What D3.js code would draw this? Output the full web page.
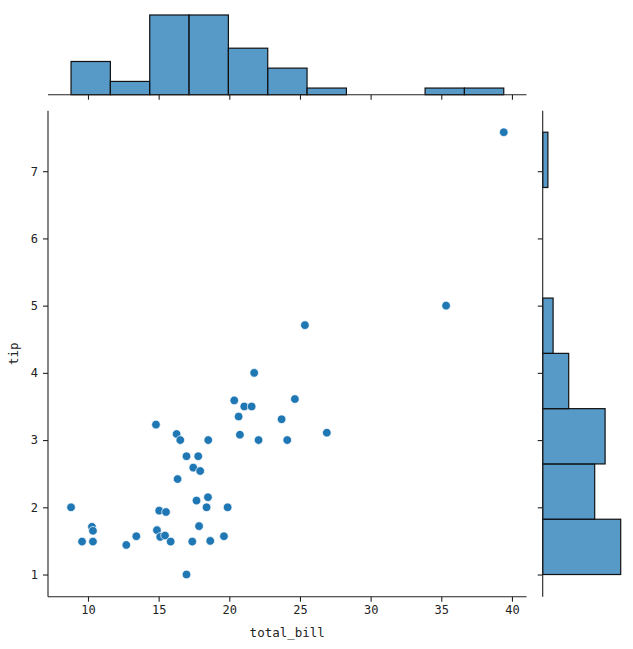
<!DOCTYPE html>
<html>
<head>
<meta charset="utf-8">
<script src="https://cdn.jsdelivr.net/npm/d3@7"></script>
<style>
  body { margin: 0; background: #fff; }
  text { font-family: "DejaVu Sans Mono", "Liberation Mono", monospace; fill: #222; }
</style>
</head>
<body>
<div id="chart"></div>
<script>
// scatter data
const totalBill = [8.80, 10.28, 10.35, 9.58, 10.35, 12.71, 13.42, 14.81, 14.88, 15.04,
    15.52, 15.11, 15.45, 15.85, 16.27, 16.53, 16.34, 16.97, 16.97, 17.45,
    17.38, 17.80, 17.94, 17.68, 17.86, 18.51, 18.49, 18.39, 18.65, 19.62,
    19.88, 20.35, 20.66, 21.06, 21.58, 20.75, 22.07, 23.70, 24.10, 24.64,
    35.34, 25.35, 21.76, 26.90, 39.42];
const tip = [2.00, 1.71, 1.65, 1.49, 1.49, 1.44, 1.57, 3.23, 1.66, 1.95,
    1.93, 1.56, 1.58, 1.49, 3.09, 3.00, 2.42, 2.76, 1.00, 2.59,
    1.49, 2.76, 2.54, 2.10, 1.72, 3.00, 2.15, 2.00, 1.50, 1.57,
    2.00, 3.59, 3.35, 3.50, 3.50, 3.08, 3.00, 3.31, 3.00, 3.61,
    5.00, 4.71, 4.00, 3.11, 7.58];

// marginal histogram counts
const billCounts = [5, 2, 12, 12, 7, 4, 1, 0, 0, 1, 1];
const tipCounts = [15, 10, 12, 5, 2, 0, 0, 1];

// ticks
const xTicks = [10, 15, 20, 25, 30, 35, 40];
const yTicks = [1, 2, 3, 4, 5, 6, 7];

const width = 633;
const height = 649;

// main axes box
const main = { left: 48, top: 110.7, right: 526.5, bottom: 596.7 };
const margTop = { top: 11, bottom: 94.7 };
const margRight = { left: 542.7, right: 624.6 };

const dotColor = "#1f77b4";
const barFill = "rgba(31,119,180,0.75)";

const svg = d3.select("#chart")
    .append("svg")
    .attr("width", width)
    .attr("height", height);

const x = d3.scaleLinear().domain([7.17, 41.03]).range([main.left, main.right]);
const y = d3.scaleLinear().domain([0.67, 7.90]).range([main.bottom, main.top]);

// bins, equal width over the data range
const xExt = d3.extent(totalBill);
const yExt = d3.extent(tip);
const xStep = (xExt[1] - xExt[0]) / billCounts.length;
const yStep = (yExt[1] - yExt[0]) / tipCounts.length;
const billBins = billCounts.map(function (c, i) {
    return { x0: xExt[0] + i * xStep, x1: xExt[0] + (i + 1) * xStep, count: c };
});
const tipBins = tipCounts.map(function (c, i) {
    return { y0: yExt[0] + i * yStep, y1: yExt[0] + (i + 1) * yStep, count: c };
});

const hTop = d3.scaleLinear().domain([0, d3.max(billCounts) * 1.05]).range([margTop.bottom, margTop.top]);
const hRight = d3.scaleLinear().domain([0, d3.max(tipCounts) * 1.05]).range([margRight.left, margRight.right]);

//top histogram
svg.append("g")
    .selectAll("rect")
    .data(billBins.filter(function (d) { return d.count > 0; }))
    .enter()
    .append("rect")
    .attr("x", function (d) { return x(d.x0); })
    .attr("width", function (d) { return x(d.x1) - x(d.x0); })
    .attr("y", function (d) { return hTop(d.count); })
    .attr("height", function (d) { return hTop(0) - hTop(d.count); })
    .attr("fill", barFill)
    .attr("stroke", "#111")
    .attr("stroke-width", 1.2);

//right histogram
svg.append("g")
    .selectAll("rect")
    .data(tipBins.filter(function (d) { return d.count > 0; }))
    .enter()
    .append("rect")
    .attr("x", hRight(0))
    .attr("width", function (d) { return hRight(d.count) - hRight(0); })
    .attr("y", function (d) { return y(d.y1); })
    .attr("height", function (d) { return y(d.y0) - y(d.y1); })
    .attr("fill", barFill)
    .attr("stroke", "#111")
    .attr("stroke-width", 1.2);

//scatter
svg.append("g")
    .selectAll("circle")
    .data(totalBill)
    .enter()
    .append("circle")
    .attr("cx", function (d) { return x(d); })
    .attr("cy", function (d, i) { return y(tip[i]); })
    .attr("r", 4.3)
    .attr("fill", dotColor)
    .attr("stroke", "#fff")
    .attr("stroke-width", 0.7);

function styleAxis(g) {
    g.select(".domain").remove();
    g.selectAll(".tick line").attr("stroke", "#222").attr("stroke-width", 1.1);
    g.selectAll(".tick text")
        .style("font-size", "12px")
        .style("font-family", "DejaVu Sans Mono, monospace")
        .attr("fill", "#222");
}

//main axes
svg.append("g")
    .attr("transform", "translate(0," + main.bottom + ")")
    .call(d3.axisBottom(x).tickValues(xTicks).tickSize(5).tickPadding(4))
    .call(styleAxis);

svg.append("g")
    .attr("transform", "translate(" + main.left + ",0)")
    .call(d3.axisLeft(y).tickValues(yTicks).tickSize(5).tickPadding(5))
    .call(styleAxis);

//marginal axes, ticks without labels
svg.append("g")
    .attr("transform", "translate(0," + margTop.bottom + ")")
    .call(d3.axisBottom(x).tickValues(xTicks).tickSize(5).tickFormat(""))
    .call(styleAxis);

svg.append("g")
    .attr("transform", "translate(" + margRight.left + ",0)")
    .call(d3.axisLeft(y).tickValues(yTicks).tickSize(5).tickFormat(""))
    .call(styleAxis);

//spines
const spine = svg.append("g").attr("stroke", "#222").attr("stroke-width", 1.1);
spine.append("line")
    .attr("x1", main.left).attr("x2", main.left)
    .attr("y1", main.top).attr("y2", main.bottom);
spine.append("line")
    .attr("x1", main.left).attr("x2", main.right)
    .attr("y1", main.bottom).attr("y2", main.bottom);
spine.append("line")
    .attr("x1", main.left).attr("x2", main.right)
    .attr("y1", margTop.bottom).attr("y2", margTop.bottom);
spine.append("line")
    .attr("x1", margRight.left).attr("x2", margRight.left)
    .attr("y1", main.top).attr("y2", main.bottom);

//axis labels
svg.append("text")
    .attr("x", (main.left + main.right) / 2)
    .attr("y", 637)
    .attr("text-anchor", "middle")
    .style("font-size", "12.5px")
    .text("total_bill");

svg.append("text")
    .attr("transform", "rotate(-90)")
    .attr("x", -(main.top + main.bottom) / 2)
    .attr("y", 18)
    .attr("text-anchor", "middle")
    .style("font-size", "12.5px")
    .text("tip");
</script>
</body>
</html>
